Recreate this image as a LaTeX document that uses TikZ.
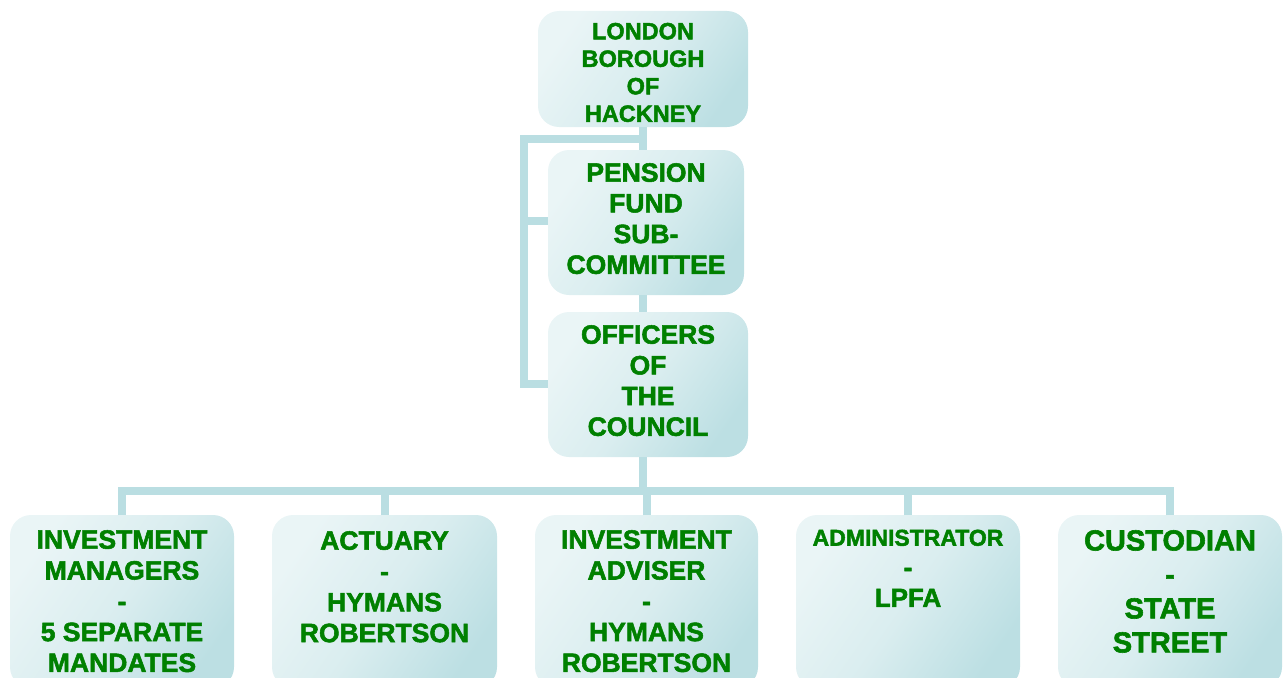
\documentclass[tikz,border=0pt]{standalone}
\usepackage{fontspec}
\setmainfont{Liberation Sans}
\newfontfamily\orgfont{Liberation Sans Bold}[FakeBold=2]
\usetikzlibrary{calc}
\begin{document}
\definecolor{boxlight}{RGB}{234,245,246}
\definecolor{boxdark}{RGB}{188,223,227}
\definecolor{linkcol}{RGB}{186,222,226}
\definecolor{txtgreen}{RGB}{0,128,0}
\begin{tikzpicture}[x=1pt,y=-1pt,
  box/.style={rectangle, rounded corners=21pt, inner sep=0pt, outer sep=0pt,
    top color=boxlight, bottom color=boxdark, middle color=boxlight!65!boxdark, shading angle=55},
  label/.style={anchor=north, inner sep=0pt, align=center, text=txtgreen},
  link/.style={draw=linkcol, line width=8pt, line cap=butt, line join=miter}]
\useasboundingbox (0,0) rectangle (1284,677);

% ---- boxes ----
\node[box, minimum width=210pt, minimum height=116pt] (lbh) at (643,69) {};
\node[box, minimum width=196pt, minimum height=145pt] (pfs) at (646,222.5) {};
\node[box, minimum width=200pt, minimum height=145pt] (occ) at (648,384.5) {};
\node[box, minimum width=224pt, minimum height=173pt] (inv) at (122,601.5) {};
\node[box, minimum width=225pt, minimum height=173pt] (act) at (384.5,601.5) {};
\node[box, minimum width=223pt, minimum height=173pt] (adv) at (646.5,601.5) {};
\node[box, minimum width=224pt, minimum height=173pt] (adm) at (908,601.5) {};
\node[box, minimum width=224pt, minimum height=173pt] (cus) at (1170,601.5) {};

% ---- connectors ----
\coordinate (bkt) at (524,139);
\coordinate (bar) at (0,491);
\path[link] (lbh.south) -- (lbh.south |- pfs.north);
\path[link] (lbh.south |- pfs.south) -- (lbh.south |- occ.north);
\path[link] (lbh.south |- bkt) -- (bkt) -- (bkt |- 0,384) -- (occ.west |- 0,384);
\path[link] (bkt |- 0,221) -- (pfs.west |- 0,221);
\path[link] (lbh.south |- occ.south) -- (lbh.south |- bar);
\path[link] ($(inv.north |- bar)+(-4,0)$) -- ($(cus.north |- bar)+(4,0)$);
\foreach \b in {inv,act,adv,adm,cus}
  \path[link] (\b.north) -- (\b.north |- bar);

% ---- texts ----
\node[label, font=\orgfont\fontsize{23.5}{27.5}\selectfont] (tlbh) at (643,22.7)
  {LONDON\\BOROUGH\\OF\\HACKNEY};
\node[label, font=\orgfont\fontsize{26.5}{30.7}\selectfont] (tpfs) at (646,163)
  {PENSION\\FUND\\SUB-\\COMMITTEE};
\node[label, font=\orgfont\fontsize{26.5}{30.7}\selectfont] (tocc) at (648,325)
  {OFFICERS\\OF\\THE\\COUNCIL};
\node[label, font=\orgfont\fontsize{26.5}{30.8}\selectfont] (tinv) at (122,530)
  {INVESTMENT\\MANAGERS\\-\\5 SEPARATE\\MANDATES};
\node[label, font=\orgfont\fontsize{26.5}{30.8}\selectfont] (tact) at (384.5,531)
  {ACTUARY\\-\\HYMANS\\ROBERTSON};
\node[label, font=\orgfont\fontsize{26.5}{30.8}\selectfont] (tadv) at (646.5,530)
  {INVESTMENT\\ADVISER\\-\\HYMANS\\ROBERTSON};
\node[label, font=\orgfont\fontsize{26}{30.5}\selectfont] (tadm) at (908,529.5)
  {{\fontsize{23}{30.5}\selectfont ADMINISTRATOR}\\-\\LPFA};
\node[label, font=\orgfont\fontsize{29}{34}\selectfont] (tcus) at (1170,530)
  {CUSTODIAN\\-\\STATE\\STREET};
\end{tikzpicture}
\end{document}
